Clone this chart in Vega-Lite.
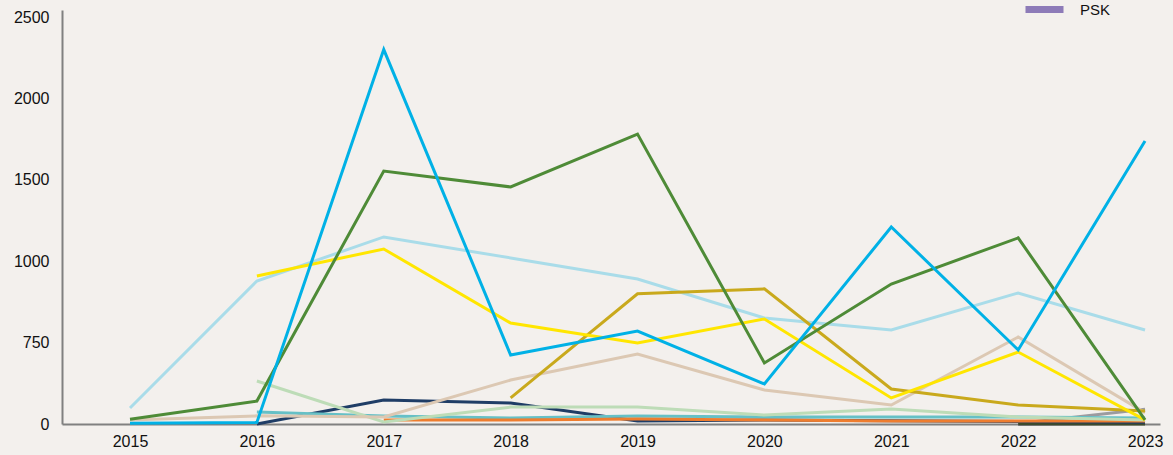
{
  "$schema": "https://vega.github.io/schema/vega-lite/v6.json",
  "autosize": "none",
  "width": 1098,
  "height": 414,
  "padding": {"left": 62, "top": 10, "right": 13, "bottom": 31},
  "background": "#f3f0ed",
  "config": {
    "view": {"stroke": null},
    "font": "Liberation Sans"
  },
  "data": {
    "values": [
      {"s": "Gray", "year": 2022, "v": 3},
      {"s": "Gray", "year": 2023, "v": 90},
      {"s": "PSK", "year": 2022, "v": 0},
      {"s": "PSK", "year": 2023, "v": 5},
      {"s": "Olive", "year": 2022, "v": 0},
      {"s": "Olive", "year": 2023, "v": 0},
      {"s": "Navy", "year": 2016, "v": 0},
      {"s": "Navy", "year": 2017, "v": 147},
      {"s": "Navy", "year": 2018, "v": 129},
      {"s": "Navy", "year": 2019, "v": 18},
      {"s": "Navy", "year": 2020, "v": 25},
      {"s": "Navy", "year": 2021, "v": 20},
      {"s": "Navy", "year": 2022, "v": 15},
      {"s": "Navy", "year": 2023, "v": 10},
      {"s": "Teal", "year": 2016, "v": 74},
      {"s": "Teal", "year": 2017, "v": 49},
      {"s": "Teal", "year": 2018, "v": 37},
      {"s": "Teal", "year": 2019, "v": 49},
      {"s": "Teal", "year": 2020, "v": 43},
      {"s": "Teal", "year": 2021, "v": 43},
      {"s": "Teal", "year": 2022, "v": 43},
      {"s": "Teal", "year": 2023, "v": 37},
      {"s": "Orange", "year": 2017, "v": 25},
      {"s": "Orange", "year": 2018, "v": 25},
      {"s": "Orange", "year": 2019, "v": 30},
      {"s": "Orange", "year": 2020, "v": 25},
      {"s": "Orange", "year": 2021, "v": 18},
      {"s": "Orange", "year": 2022, "v": 18},
      {"s": "Orange", "year": 2023, "v": 18},
      {"s": "LightGreen", "year": 2016, "v": 264},
      {"s": "LightGreen", "year": 2017, "v": 12},
      {"s": "LightGreen", "year": 2018, "v": 104},
      {"s": "LightGreen", "year": 2019, "v": 104},
      {"s": "LightGreen", "year": 2020, "v": 55},
      {"s": "LightGreen", "year": 2021, "v": 92},
      {"s": "LightGreen", "year": 2022, "v": 43},
      {"s": "LightGreen", "year": 2023, "v": 25},
      {"s": "Tan", "year": 2015, "v": 25},
      {"s": "Tan", "year": 2016, "v": 50},
      {"s": "Tan", "year": 2017, "v": 43},
      {"s": "Tan", "year": 2018, "v": 270},
      {"s": "Tan", "year": 2019, "v": 430},
      {"s": "Tan", "year": 2020, "v": 209},
      {"s": "Tan", "year": 2021, "v": 117},
      {"s": "Tan", "year": 2022, "v": 534},
      {"s": "Tan", "year": 2023, "v": 70},
      {"s": "LightBlue", "year": 2015, "v": 98},
      {"s": "LightBlue", "year": 2016, "v": 878},
      {"s": "LightBlue", "year": 2017, "v": 1149},
      {"s": "LightBlue", "year": 2018, "v": 1020},
      {"s": "LightBlue", "year": 2019, "v": 891},
      {"s": "LightBlue", "year": 2020, "v": 651},
      {"s": "LightBlue", "year": 2021, "v": 577},
      {"s": "LightBlue", "year": 2022, "v": 805},
      {"s": "LightBlue", "year": 2023, "v": 577},
      {"s": "Gold", "year": 2018, "v": 160},
      {"s": "Gold", "year": 2019, "v": 800},
      {"s": "Gold", "year": 2020, "v": 830},
      {"s": "Gold", "year": 2021, "v": 215},
      {"s": "Gold", "year": 2022, "v": 117},
      {"s": "Gold", "year": 2023, "v": 80},
      {"s": "Yellow", "year": 2016, "v": 909},
      {"s": "Yellow", "year": 2017, "v": 1075},
      {"s": "Yellow", "year": 2018, "v": 620},
      {"s": "Yellow", "year": 2019, "v": 497},
      {"s": "Yellow", "year": 2020, "v": 645},
      {"s": "Yellow", "year": 2021, "v": 160},
      {"s": "Yellow", "year": 2022, "v": 442},
      {"s": "Yellow", "year": 2023, "v": 25},
      {"s": "Green", "year": 2015, "v": 29},
      {"s": "Green", "year": 2016, "v": 141},
      {"s": "Green", "year": 2017, "v": 1554},
      {"s": "Green", "year": 2018, "v": 1456},
      {"s": "Green", "year": 2019, "v": 1781},
      {"s": "Green", "year": 2020, "v": 375},
      {"s": "Green", "year": 2021, "v": 860},
      {"s": "Green", "year": 2022, "v": 1143},
      {"s": "Green", "year": 2023, "v": 25},
      {"s": "Blue", "year": 2015, "v": 5},
      {"s": "Blue", "year": 2016, "v": 10},
      {"s": "Blue", "year": 2017, "v": 2300},
      {"s": "Blue", "year": 2018, "v": 424},
      {"s": "Blue", "year": 2019, "v": 571},
      {"s": "Blue", "year": 2020, "v": 246},
      {"s": "Blue", "year": 2021, "v": 1210},
      {"s": "Blue", "year": 2022, "v": 455},
      {"s": "Blue", "year": 2023, "v": 1738}
    ]
  },
  "mark": {"type": "line", "strokeWidth": 3, "strokeJoin": "miter", "clip": false},
  "encoding": {
    "x": {
      "field": "year",
      "type": "quantitative",
      "scale": {"domain": [2014.464, 2023.118], "nice": false, "zero": false},
      "axis": {
        "title": null,
        "values": [2015, 2016, 2017, 2018, 2019, 2020, 2021, 2022, 2023],
        "format": "d",
        "grid": false,
        "ticks": false,
        "domainColor": "#808080",
        "domainWidth": 2,
        "labelFontSize": 16,
        "labelColor": "#111111",
        "labelPadding": 9,
        "labelFlush": false
      }
    },
    "y": {
      "field": "v",
      "type": "quantitative",
      "scale": {"domain": [0, 2543], "nice": false},
      "axis": {
        "title": null,
        "values": [0, 500, 1000, 1500, 2000, 2500],
        "labelExpr": "datum.value == 500 ? '750' : datum.label",
        "format": "d",
        "grid": false,
        "ticks": false,
        "domainColor": "#808080",
        "domainWidth": 2,
        "labelFontSize": 16,
        "labelColor": "#111111",
        "labelPadding": 13
      }
    },
    "color": {
      "field": "s",
      "type": "nominal",
      "sort": null,
      "scale": {
        "domain": ["Gray", "PSK", "Olive", "Navy", "Teal", "Orange", "LightGreen", "Tan", "LightBlue", "Gold", "Yellow", "Green", "Blue"],
        "range": ["#9b9b9f", "#8d7bb8", "#3d4a2c", "#1f3d66", "#66c0c6", "#ee7d2f", "#bddcb7", "#dcc8b3", "#a9dce9", "#c9a91c", "#ffe600", "#4e8b37", "#00b1e6"]
      },
      "legend": {
        "values": ["PSK"],
        "title": null,
        "orient": "none",
        "legendX": 960,
        "legendY": -23,
        "padding": 0,
        "symbolType": "stroke",
        "symbolSize": 1444,
        "symbolStrokeWidth": 7,
        "labelFontSize": 15,
        "labelColor": "#111111",
        "labelOffset": 13,
        "encoding": {"symbols": {"update": {"strokeCap": {"value": "round"}}}}
      }
    }
  }
}
